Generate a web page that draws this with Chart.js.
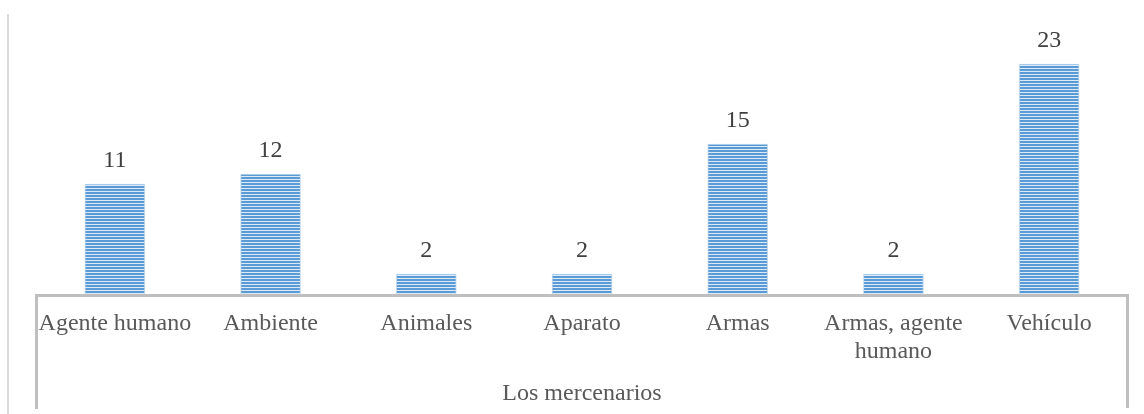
<!DOCTYPE html>
<html>
<head>
<meta charset="utf-8">
<script src="https://cdn.jsdelivr.net/npm/chart.js@4.4.1/dist/chart.umd.min.js"></script>
<style>
  html, body { margin: 0; padding: 0; background: #fff; }
  #wrap { width: 1144px; height: 414px; }
</style>
</head>
<body>
<div id="wrap"><canvas id="chart" width="1144" height="414"></canvas></div>
<script>
// Event counts per category, "Los mercenarios"
const categories = ['Agente humano', 'Ambiente', 'Animales', 'Aparato', 'Armas', ['Armas, agente', 'humano'], 'Vehículo'];
const counts = [11, 12, 2, 2, 15, 2, 23];
const groupLabel = 'Los mercenarios';
const yMax = 25;

const serif = "'Liberation Serif', 'Times New Roman', serif";

// Narrow horizontal stripe fill for the bars
function stripePattern() {
    const c = document.createElement('canvas');
    c.width = 4;
    c.height = 3;
    const g = c.getContext('2d');
    g.fillStyle = '#dce9f6';
    g.fillRect(0, 0, 4, 3);
    g.fillStyle = '#5b9bd5';
    g.fillRect(0, 0, 4, 2);
    return g.createPattern(c, 'repeat');
}

// Frame lines, the category box and the value labels above each bar
const decorations = {
    id: 'decorations',
    beforeDraw(chart) {
        const ctx = chart.ctx;
        ctx.save();
        ctx.fillStyle = '#d9d9d9';
        ctx.fillRect(7, 14, 2, 400);
        ctx.restore();
    },
    afterDatasetsDraw(chart) {
        const ctx = chart.ctx;
        const area = chart.chartArea;
        const x = chart.scales.x;
        ctx.save();
        ctx.strokeStyle = '#bfbfbf';
        ctx.lineWidth = 3;
        ctx.beginPath();
        ctx.moveTo(area.left - 0.5, x.bottom - 5);
        ctx.lineTo(area.left - 0.5, area.bottom + 1.5);
        ctx.lineTo(area.right + 0.5, area.bottom + 1.5);
        ctx.lineTo(area.right + 0.5, x.bottom - 6);
        ctx.stroke();

        ctx.fillStyle = '#404040';
        ctx.font = '24px ' + serif;
        ctx.textAlign = 'center';
        ctx.textBaseline = 'alphabetic';
        chart.getDatasetMeta(0).data.forEach((bar, i) => {
            ctx.fillText(String(counts[i]), bar.x, bar.y - 17);
        });
        ctx.restore();
    }
};

new Chart(document.getElementById('chart'), {
    type: 'bar',
    data: {
        labels: categories,
        datasets: [{
            data: counts,
            backgroundColor: stripePattern(),
            borderColor: 'rgba(189, 215, 238, 0.9)',
            borderWidth: 1,
            borderSkipped: 'bottom',
            barThickness: 60
        }]
    },
    options: {
        responsive: false,
        animation: false,
        events: [],
        layout: { padding: { left: 37, right: 17, top: 44, bottom: 0 } },
        plugins: {
            legend: { display: false },
            tooltip: { enabled: false }
        },
        scales: {
            y: {
                display: false,
                min: 0,
                max: yMax
            },
            x: {
                grid: { display: false, drawTicks: false, tickLength: 0 },
                border: { display: false },
                ticks: {
                    color: '#595959',
                    font: { family: serif, size: 24 },
                    padding: 15,
                    maxRotation: 0,
                    autoSkip: false
                },
                title: {
                    display: true,
                    text: groupLabel,
                    color: '#595959',
                    font: { family: serif, size: 24 },
                    padding: { top: 0, bottom: 6 }
                },
                afterFit(scale) {
                    scale.height = 120;
                }
            }
        }
    },
    plugins: [decorations]
});
</script>
</body>
</html>
